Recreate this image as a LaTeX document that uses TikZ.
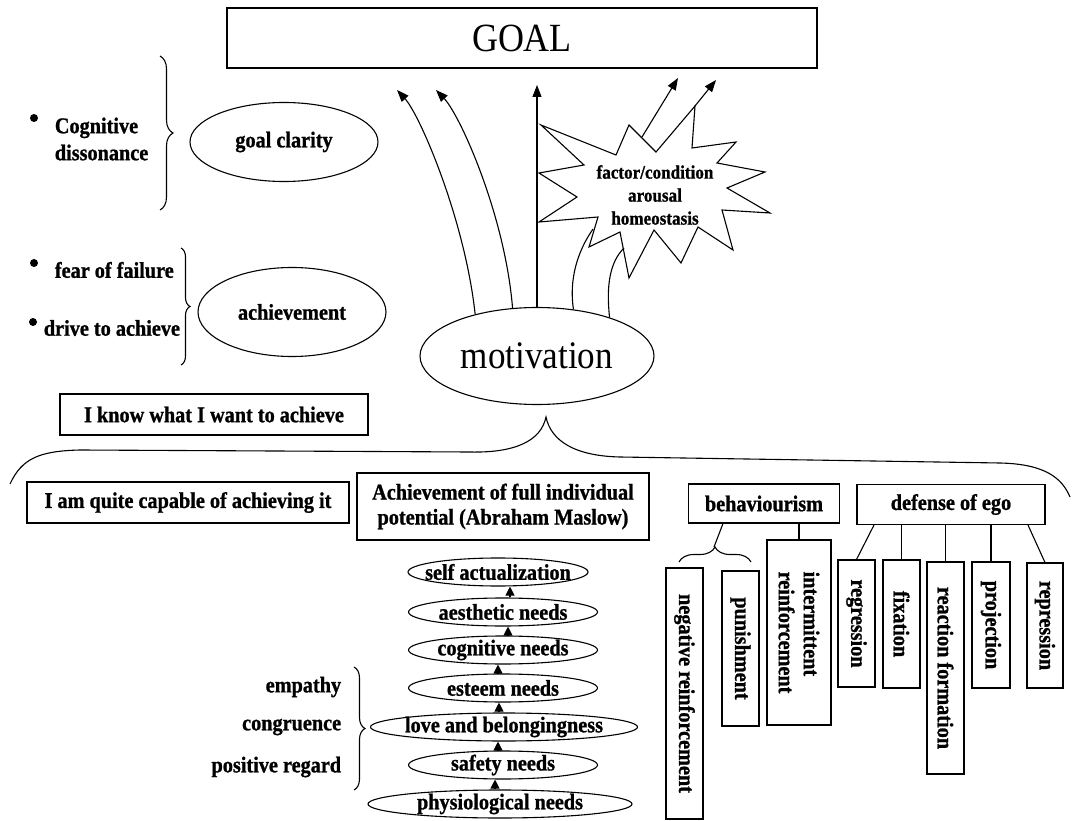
\documentclass[tikz,border=0pt]{standalone}
\usepackage{fontspec}
\setmainfont{Liberation Serif}[FakeStretch=0.9,BoldFeatures={FakeBold=1}]
\usetikzlibrary{arrows.meta,shapes.geometric,decorations.pathreplacing}

\begin{document}
\begin{tikzpicture}[x=1pt,y=-1pt,line width=1.1pt,
  lbl/.style={font=\bfseries\fontsize{22.5}{25}\selectfont},
  box/.style={draw,rectangle,inner sep=0pt,align=center,lbl},
  vbox/.style={box,rotate=-90},
  oval/.style={draw,ellipse,inner sep=0pt,lbl},
  need/.style={draw,ellipse,inner sep=0pt,minimum height=28pt},
  bul/.style={circle,fill,inner sep=0pt,minimum size=8pt},
  ar/.style={-{Triangle[length=12pt,width=9pt]}},
  needar/.style={-{Triangle[length=9pt,width=9pt]}},
  brc/.style={decorate,decoration={brace,amplitude=#1}}]
  \useasboundingbox (0,0) rectangle (1072,821);

  \node[draw,minimum width=590pt,minimum height=60pt,font=\fontsize{40}{46}\selectfont] (goal) at (522,38) {GOAL};
  \node[draw,ellipse,inner sep=0pt,minimum width=234pt,minimum height=97pt,font=\fontsize{39}{44}\selectfont] (mot) at (537,356) {motivation};
  \node[oval,minimum width=188pt,minimum height=79pt] (clar) at (284,142) {goal clarity};
  \node[oval,minimum width=188pt,minimum height=89pt] (achv) at (292,312) {achievement};

  \node[bul] (b1) at (34,118) {};
  \node[anchor=west,align=left,font=\bfseries\fontsize{22.5}{27}\selectfont] (cogd) at (51,139) {Cognitive\\dissonance};
  \node[bul] (b2) at (34,263) {};
  \node[lbl,anchor=west] (fear) at (51,270) {fear of failure};
  \node[bul] (b3) at (33,322) {};
  \node[lbl,anchor=west] (drive) at (40,328) {drive to achieve};
  \coordinate (ba1) at (160,56);
  \coordinate (ba2) at (160,210);
  \coordinate (bb1) at (181,248);
  \coordinate (bb2) at (181,365);
  \draw[brc=13pt] (ba1) -- (ba2);
  \draw[brc=9pt] (bb1) -- (bb2);

  \coordinate (t1) at (397,90);
  \coordinate (t2) at (436,90);
  \coordinate (t3) at (537,85);
  \coordinate (t4) at (678,78);
  \coordinate (t5) at (716,80);
  \coordinate (sa) at (642,137);
  \coordinate (sb) at (695,106);
  \coordinate (c1e) at (593,229);
  \coordinate (c2e) at (624,248);
  \draw (541,125) -- (616,155) -- (629,125) -- (656,152) -- (695,106) -- (692,148)
    -- (736,142) -- (717,163) -- (765,172) -- (727,188) -- (770,213) -- (722,210)
    -- (733,250) -- (698,227) -- (681,263) -- (654,230) -- (629,278) -- (620,232)
    -- (589,247) -- (598,217) -- (539,222) -- (577,197) -- (539,173) -- (584,165) -- cycle;
  \node[align=center,font=\bfseries\fontsize{19}{23}\selectfont] (fac) at (655,195) {factor/condition\\arousal\\homeostasis};
  \draw[ar] (mot.146) .. controls (465,220) and (420,115) .. (t1);
  \draw[ar] (mot.117) .. controls (505,215) and (460,115) .. (t2);
  \draw[ar] (mot.north) -- (t3);
  \draw[ar] (sa) -- (t4);
  \draw[ar] (sb) -- (t5);
  \draw (mot.52) .. controls (569,280) and (577,252) .. (c1e);
  \draw (mot.28) .. controls (606,285) and (610,262) .. (c2e);

  \node[box,minimum width=308pt,minimum height=41pt] (know) at (214,414.5) {I know what I want to achieve};
  \coordinate (bl) at (10,484);
  \coordinate (mcusp) at (546,417);
  \coordinate (br) at (1070,497);
  \draw (bl) .. controls (22,458) and (40,451) .. (80,450) -- (470,452)
    .. controls (515,453) and (541,441) .. (mcusp)
    .. controls (551,441) and (575,456) .. (620,457) -- (1000,463)
    .. controls (1045,464) and (1062,478) .. (br);

  \node[box,minimum width=322pt,minimum height=41pt] (cap) at (188,502.5) {I am quite capable of achieving it};
  \node[box,minimum width=292pt,minimum height=67pt] (maslow) at (503,506.5) {Achievement of full individual\\potential (Abraham Maslow)};
  \node[box,minimum width=151pt,minimum height=39pt] (behav) at (764,503.5) {behaviourism};
  \node[box,minimum width=188pt,minimum height=40pt] (ego) at (951,504.5) {defense of ego};

  \node[vbox,minimum width=251pt,minimum height=37pt] (neg) at (684.5,693.5) {negative reinforcement};
  \node[vbox,minimum width=155pt,minimum height=37pt] (pun) at (740.5,648.5) {punishment};
  \node[vbox,align=left,minimum width=185pt,minimum height=64pt] (int) at (799,632.5) {intermittent\\reinforcement};
  \node[vbox,minimum width=127pt,minimum height=37pt] (reg) at (856.5,623.5) {regression};
  \node[vbox,minimum width=128pt,minimum height=37pt] (fix) at (901.5,624) {fixation};
  \node[vbox,minimum width=212pt,minimum height=37pt] (rea) at (945.5,668) {reaction formation};
  \node[vbox,minimum width=126pt,minimum height=38pt] (pro) at (991,625) {projection};
  \node[vbox,minimum width=125pt,minimum height=36pt] (rep) at (1045,625.5) {repression};

  \coordinate (bcusp) at (714,547);
  \coordinate (bra) at (679,562);
  \coordinate (brb) at (751,562);
  \draw[brc=15pt] (bra) -- (brb);
  \draw ([xshift=-41pt]behav.south) -- (bcusp);
  \draw (int.west) -- (int.west |- behav.south);
  \draw ([xshift=-77pt]ego.south) -- (reg.west);
  \draw (fix.west) -- (fix.west |- ego.south);
  \draw (rea.west) -- (rea.west |- ego.south);
  \draw (pro.west) -- (pro.west |- ego.south);
  \draw ([xshift=77pt]ego.south) -- (rep.west);

  \node[need,minimum width=180pt,label={[lbl]center:self actualization}] (self) at (498,572) {};
  \node[need,minimum width=189pt,label={[lbl]center:aesthetic needs}] (aes) at (503,612) {};
  \node[need,minimum width=189pt,label={[lbl]center:cognitive needs}] (cog) at (503,650) {};
  \node[need,minimum width=189pt,label={[lbl]center:esteem needs}] (est) at (503,688) {};
  \node[need,minimum width=267pt,label={[lbl]center:love and belongingness}] (love) at (504,727) {};
  \node[need,minimum width=189pt,label={[lbl]center:safety needs}] (safe) at (503,765) {};
  \node[need,minimum width=264pt,label={[lbl]center:physiological needs}] (phys) at (500,804) {};
  \foreach \lo/\up/\dx in {aes/self/7,cog/aes/5,est/cog/-5,love/est/-5,safe/love/-5,phys/safe/-5}
    \draw[needar] ([xshift=\dx pt]\lo.north) -- ([xshift=\dx pt]\lo.north |- \up.south);

  \coordinate (mb1) at (354,667);
  \coordinate (mb2) at (354,790);
  \draw[brc=11pt] (mb1) -- (mb2);
  \node[lbl,anchor=east] (emp) at (345,687) {empathy};
  \node[lbl,anchor=east] (cong) at (345,727) {congruence};
  \node[lbl,anchor=east] (posr) at (345,767) {positive regard};
\end{tikzpicture}
\end{document}
